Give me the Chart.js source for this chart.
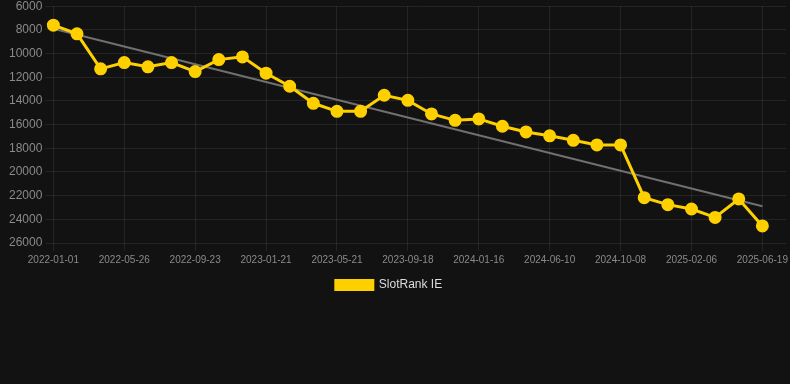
<!DOCTYPE html>
<html>
<head>
<meta charset="utf-8">
<script src="https://cdn.jsdelivr.net/npm/chart.js@4.4.0/dist/chart.umd.min.js"></script>
<style>
  html, body { margin: 0; padding: 0; background: #121212; }
  #wrap { position: relative; width: 790px; height: 305px; margin-top: -4px; }
</style>
</head>
<body>
<div id="wrap"><canvas id="chart"></canvas></div>
<script>
// dates of each ranking sample (every 3rd is shown on the axis)
const dates = [
  '2022-01-01', '2022-02-18', '2022-04-07', '2022-05-26', '2022-07-05', '2022-08-14',
  '2022-09-23', '2022-11-02', '2022-12-12', '2023-01-21', '2023-03-02', '2023-04-11',
  '2023-05-21', '2023-06-30', '2023-08-09', '2023-09-18', '2023-10-28', '2023-12-07',
  '2024-01-16', '2024-03-04', '2024-04-22', '2024-06-10', '2024-07-20', '2024-08-29',
  '2024-10-08', '2024-11-17', '2024-12-28', '2025-02-06', '2025-03-22', '2025-05-06',
  '2025-06-19'
];

// SlotRank IE position
const rankIE = [
  7600, 8330, 11290, 10760, 11120, 10760,
  11520, 10510, 10280, 11660, 12760, 14200,
  14880, 14880, 13520, 13950, 15100, 15640,
  15520, 16140, 16620, 16950, 17330, 17720,
  17720, 22170, 22760, 23130, 23840, 22280,
  24560
];

// trend line end points
const trendStart = 7910;
const trendEnd = 22900;

const yTicks = { min: 6000, max: 26000, step: 2000 };

const yellow = '#ffd000';
const gridColor = 'rgba(255,255,255,0.08)';

// one spare empty slot on the right so the plot runs to the edge
const labels = dates.concat(['']);
const trend = labels.map((d, i) => i === 0 ? trendStart : (i === dates.length - 1 ? trendEnd : null));

const shown = i => i % 3 === 0 && i < dates.length;

// nudge the legend a bit to the left
const legendShift = {
  id: 'legendShift',
  afterLayout(chart) {
    if (chart.legend) {
      chart.legend.left -= 7;
      chart.legend.right -= 7;
    }
  }
};

new Chart(document.getElementById('chart'), {
  type: 'line',
  data: {
    labels,
    datasets: [
      {
        label: 'SlotRank IE',
        data: rankIE,
        borderColor: yellow,
        backgroundColor: yellow,
        borderWidth: 3,
        pointRadius: 5,
        pointHoverRadius: 6,
        pointBackgroundColor: yellow,
        pointBorderColor: yellow,
        tension: 0
      },
      {
        label: 'trend',
        data: trend,
        borderColor: '#707070',
        borderWidth: 2,
        pointRadius: 0,
        spanGaps: true,
        tension: 0
      }
    ]
  },
  plugins: [legendShift],
  options: {
    responsive: true,
    maintainAspectRatio: false,
    animation: false,
    layout: { autoPadding: false, padding: { left: 6, right: 4, top: 0, bottom: 0 } },
    plugins: {
      legend: {
        position: 'bottom',
        labels: {
          color: '#dddddd',
          boxWidth: 37,
          boxHeight: 9,
          font: { size: 12 },
          filter: item => item.text === 'SlotRank IE'
        }
      },
      tooltip: { enabled: false }
    },
    scales: {
      x: {
        afterFit: s => { s.paddingRight = 0; },
        grid: {
          color: ctx => (ctx.tick && ctx.tick.label) ? gridColor : 'rgba(0,0,0,0)'
        },
        border: { display: false },
        ticks: {
          color: '#8a8a8a',
          autoSkip: false,
          maxRotation: 0,
          font: { size: 10 },
          callback: (v, i) => shown(i) ? labels[i] : (i === dates.length ? '' : null)
        }
      },
      y: {
        reverse: true,
        min: yTicks.min,
        max: yTicks.max,
        grid: { color: gridColor },
        border: { display: false },
        ticks: {
          stepSize: yTicks.step,
          color: '#8a8a8a',
          font: { size: 12 },
          callback: v => String(v)
        }
      }
    }
  }
});
</script>
</body>
</html>
